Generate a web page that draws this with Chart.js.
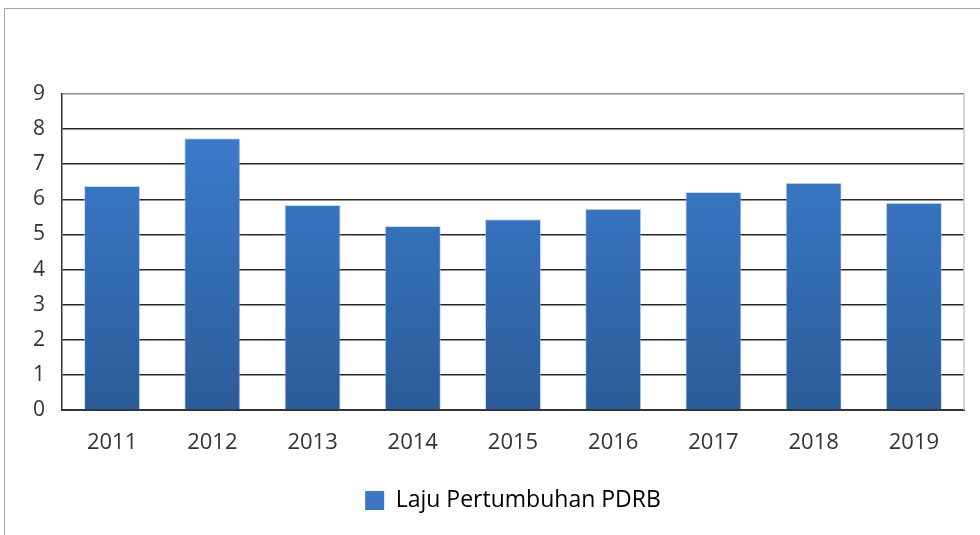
<!DOCTYPE html>
<html>
<head>
<meta charset="utf-8">
<script src="https://cdn.jsdelivr.net/npm/chart.js@4"></script>
<style>
  body { margin: 0; background: #fff; }
  #frame {
    position: absolute; left: 4px; top: 8px;
    width: 976px; height: 527px;
    border: 1px solid #a6a6a6; border-right: none; border-bottom: none;
    background: #fff;
  }
</style>
</head>
<body>
<div id="frame"><canvas id="pdrbChart" width="975" height="526"></canvas></div>
<script>
const years = ['2011', '2012', '2013', '2014', '2015', '2016', '2017', '2018', '2019'];
const growth = [6.38, 7.74, 5.84, 5.24, 5.43, 5.73, 6.21, 6.47, 5.90];
const seriesName = 'Laju Pertumbuhan PDRB';

function barGradient(context) {
  const chart = context.chart;
  const area = chart.chartArea;
  if (!area) return '#3a7bc8';
  const g = chart.ctx.createLinearGradient(0, area.top, 0, area.bottom);
  g.addColorStop(0, '#3d80d2');
  g.addColorStop(1, '#2c5c99');
  return g;
}

// light grey edge on the right side of the plot area
const rightEdge = {
  id: 'rightEdge',
  afterDraw(chart) {
    const { ctx, chartArea } = chart;
    ctx.save();
    ctx.strokeStyle = '#c8c8c8';
    ctx.lineWidth = 1.5;
    ctx.beginPath();
    ctx.moveTo(chartArea.right, chartArea.top);
    ctx.lineTo(chartArea.right, chartArea.bottom);
    ctx.stroke();
    ctx.restore();
  }
};

const ctx = document.getElementById('pdrbChart').getContext('2d');
new Chart(ctx, {
  type: 'bar',
  data: {
    labels: years,
    datasets: [{
      label: seriesName,
      data: growth,
      backgroundColor: barGradient,
      borderColor: 'rgba(160,200,240,0.6)',
      borderWidth: 1,
      barPercentage: 0.56,
      categoryPercentage: 1.0
    }]
  },
  options: {
    responsive: false,
    animation: false,
    layout: { padding: { top: 85, right: 16, left: 0, bottom: 13 } },
    scales: {
      x: {
        grid: { display: false },
        border: { display: true, color: '#333', width: 2 },
        ticks: { color: '#333', font: { family: 'Open Sans', size: 22 }, padding: 12, maxRotation: 0 },
        afterFit: s => { s.height = 69; }
      },
      y: {
        min: 0,
        max: 9,
        ticks: { stepSize: 1, color: '#333', font: { family: 'Open Sans', size: 21 }, padding: 17 },
        grid: {
          drawTicks: false,
          color: c => c.tick && c.tick.value === 9 ? '#8c8c8c' : '#262626',
          lineWidth: 1.5
        },
        border: { display: true, color: '#333', width: 1.5 },
        afterFit: s => { s.width = 57; }
      }
    },
    plugins: {
      legend: {
        position: 'bottom',
        fullSize: false,
        labels: {
          color: '#333',
          font: { family: 'Open Sans', size: 23 },
          boxWidth: 19,
          boxHeight: 19,
          padding: 10,
          generateLabels: chart => [{
            text: seriesName,
            fillStyle: '#3a76c4',
            strokeStyle: '#3a76c4',
            lineWidth: 0,
            datasetIndex: 0
          }]
        }
      },
      tooltip: { enabled: false }
    }
  },
  plugins: [rightEdge]
});
</script>
</body>
</html>
